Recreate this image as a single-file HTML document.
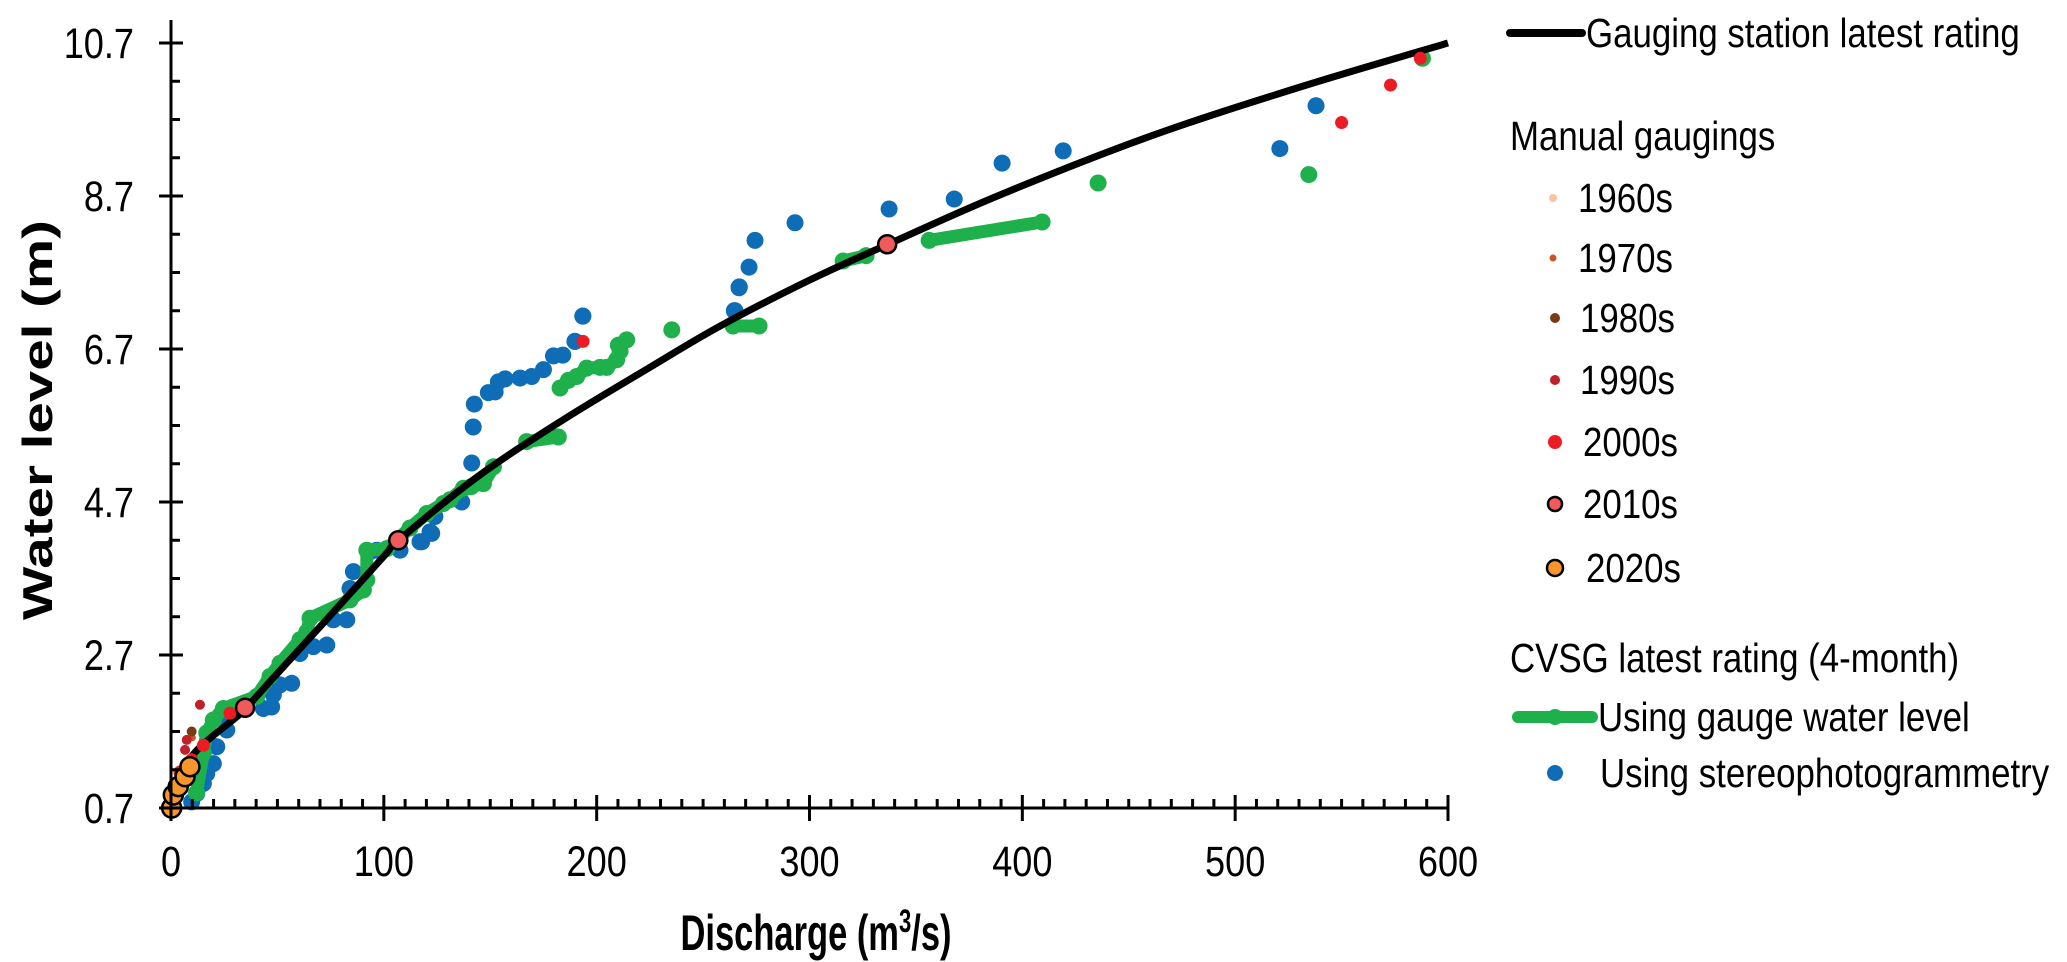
<!DOCTYPE html>
<html><head><meta charset="utf-8"><style>
html,body{margin:0;padding:0;background:#fff;}
svg{display:block;font-family:"Liberation Sans",Arial,sans-serif;}
</style></head><body>
<svg id="chart" width="2067" height="962" viewBox="0 0 2067 962" xmlns="http://www.w3.org/2000/svg">
<g id="marks"></g>
<g id="axes"></g>
<g id="legend">
  <line x1="1510" y1="33" x2="1582" y2="33" stroke="#000" stroke-width="8" stroke-linecap="round"/>
  <text transform="translate(1586,47) scale(0.85,1)" font-size="41">Gauging station latest rating</text>
  <text transform="translate(1510,150) scale(0.85,1)" font-size="41">Manual gaugings</text>
  <circle cx="1553" cy="198" r="4" fill="#f7c4a6"/>
  <text transform="translate(1578,212) scale(0.85,1)" font-size="41">1960s</text>
  <circle cx="1553" cy="258" r="3.5" fill="#c8552a"/>
  <text transform="translate(1578,272) scale(0.85,1)" font-size="41">1970s</text>
  <circle cx="1555" cy="318" r="5" fill="#7b3a16"/>
  <text transform="translate(1580,332) scale(0.85,1)" font-size="41">1980s</text>
  <circle cx="1555" cy="380" r="5" fill="#c0202a"/>
  <text transform="translate(1580,394) scale(0.85,1)" font-size="41">1990s</text>
  <circle cx="1555" cy="442" r="7" fill="#ed1c24"/>
  <text transform="translate(1583,456) scale(0.85,1)" font-size="41">2000s</text>
  <circle cx="1555" cy="504" r="7" fill="#f05a5a" stroke="#000" stroke-width="2.5"/>
  <text transform="translate(1583,518) scale(0.85,1)" font-size="41">2010s</text>
  <circle cx="1555" cy="568" r="8" fill="#f7962b" stroke="#000" stroke-width="2.5"/>
  <text transform="translate(1586,582) scale(0.85,1)" font-size="41">2020s</text>
  <text transform="translate(1510,672) scale(0.85,1)" font-size="41">CVSG latest rating (4-month)</text>
  <line x1="1518" y1="717" x2="1592" y2="717" stroke="#1db04b" stroke-width="12" stroke-linecap="round"/>
  <circle cx="1555" cy="717" r="8" fill="#1db04b"/>
  <text transform="translate(1598,731) scale(0.85,1)" font-size="41">Using gauge water level</text>
  <circle cx="1555" cy="773" r="8" fill="#0e6db6"/>
  <text transform="translate(1600,787) scale(0.85,1)" font-size="41">Using stereophotogrammetry</text>
</g>
<text transform="translate(52,420) rotate(-90)" font-size="42" font-weight="bold" text-anchor="middle" textLength="400" lengthAdjust="spacingAndGlyphs">Water level (m)</text>
<text transform="translate(816,950) scale(0.69,1)" font-size="50" font-weight="bold" text-anchor="middle">Discharge (m<tspan font-size="32" dy="-18">3</tspan><tspan dy="18">/s)</tspan></text>
</svg>
<script>
// ---- data ----
const xTicks = [0,100,200,300,400,500,600];
const xTickLabels = ["0","100","200","300","400","500","600"];
const yTicks = [0.7,2.7,4.7,6.7,8.7,10.7];
const yTickLabels = ["0.7","2.7","4.7","6.7","8.7","10.7"];
const ratingQ = [0,2,6,12,20,29,35,50,72,100,107,144,184,225,258,300,337,390,460,530,600];
const ratingH = [0.7,0.95,1.22,1.45,1.65,1.85,2.0,2.46,3.13,3.99,4.2,5.03,5.77,6.46,7.0,7.6,8.07,8.72,9.48,10.12,10.7];
const greenQ1 = [12,15.2,16.8,19.9,24.6,40.3,46.5,51.2,60.6,63.8,65.3,84.1,90.4,92,92,101.4,112.3,120.2,128,131.1,137.4,141,146.8,151.5];
const greenH1 = [0.9,1.42,1.68,1.85,2.0,2.16,2.42,2.59,2.9,3.0,3.18,3.42,3.55,3.68,4.07,4.09,4.36,4.55,4.68,4.73,4.88,4.9,4.94,5.16];
const greenQ2 = [167.1,182];
const greenH2 = [5.49,5.55];
const greenQ3 = [182.8,186.7,190.6,195.3,201.6,204.7,209.4,211,210.2,214.1];
const greenH3 = [6.19,6.29,6.34,6.45,6.46,6.46,6.56,6.67,6.75,6.82];
const greenQ4 = [264.1,276.3];
const greenH4 = [7.0,7.0];
const greenQ5 = [315.8,326.6];
const greenH5 = [7.85,7.92];
const greenQ6 = [356.2,409.3];
const greenH6 = [8.12,8.36];
const greenSingleQ = [235.3,435.6,534.6,588];
const greenSingleH = [6.95,8.87,8.98,10.5];
const blueQ = [9.7,12.1,15.2,16.8,19.9,21.5,26.2,26.2,29.3,43.4,47.3,48.1,51.2,56.7,60.6,66.9,73.2,76.3,82.6,84.1,85.7,93.5,96.7,107.6,117,121.7,124,136.6,117.8,122.5,141.3,142,142.5,149.1,152.3,153.8,157,164,169.5,175,179.7,184.1,189.8,193.5,264.7,267,265,266.9,271.6,274.4,293.2,337.4,368,390.5,419.2,521,538];
const blueH = [0.78,0.89,1.02,1.15,1.28,1.5,1.72,1.89,2.02,2.0,2.02,2.18,2.31,2.33,2.72,2.81,2.83,3.16,3.16,3.57,3.79,4.05,4.07,4.07,4.18,4.31,4.51,4.70,4.18,4.29,5.21,5.68,5.98,6.13,6.14,6.27,6.31,6.32,6.34,6.43,6.61,6.62,6.80,7.13,7.2,7.51,7.2,7.5,7.77,8.12,8.35,8.53,8.66,9.13,9.29,9.32,9.88];
const d1970Q = [10];
const d1970H = [1.62];
const d1980Q = [9.7];
const d1980H = [1.70];
const d1990Q = [13.6,7.4,6.6];
const d1990H = [2.05,1.59,1.46];
const d2000Q = [27.7,15.2,4.2,9.7,193.6,550,573,587];
const d2000H = [1.94,1.52,1.17,1.33,6.8,9.66,10.15,10.5];
const d2010Q = [34.8,106.8,336.5];
const d2010H = [2.01,4.2,8.07];
const d2020Q = [0.3,1.1,3.4,6.6,8.9];
const d2020H = [0.70,0.87,0.98,1.11,1.24];

// ---- scales ----
const X0 = 171, X1 = 1448, Y0 = 808, Y1 = 43;
function sx(q){ return X0 + (q - 0) / 600 * (X1 - X0); }
function sy(h){ return Y0 - (h - 0.7) / 10 * (Y0 - Y1); }
const NS = "http://www.w3.org/2000/svg";
const marks = document.getElementById('marks');
const axes = document.getElementById('axes');
function mk(tag, attrs, parent){
  const e = document.createElementNS(NS, tag);
  for (const k in attrs) e.setAttribute(k, attrs[k]);
  parent.appendChild(e);
  return e;
}
function dots(Q, H, r, fill, stroke, sw, name){
  for (let i = 0; i < Q.length; i++){
    const c = mk('circle', {cx: sx(Q[i]), cy: sy(H[i]), r: r, fill: fill}, marks);
    if (stroke){ c.setAttribute('stroke', stroke); c.setAttribute('stroke-width', sw); }
    
    
  }
}
function greenLine(Q, H){
  const pts = Q.map((q, i) => sx(q) + ',' + sy(H[i])).join(' ');
  const p = mk('polyline', {points: pts, fill: 'none', stroke: '#1db04b', 'stroke-width': 13, 'stroke-linecap': 'round', 'stroke-linejoin': 'round'}, marks);
  
  
  dots(Q, H, 8.5, '#1db04b', null, 0, 'cvsg-gauge-level-point');
}
function smoothPath(Q, H){
  const P = Q.map((q, i) => [sx(q), sy(H[i])]);
  let d = 'M' + P[0][0] + ',' + P[0][1];
  for (let i = 0; i < P.length - 1; i++){
    const p0 = P[Math.max(0, i - 1)], p1 = P[i], p2 = P[i + 1], p3 = P[Math.min(P.length - 1, i + 2)];
    const c1x = p1[0] + (p2[0] - p0[0]) / 6, c1y = p1[1] + (p2[1] - p0[1]) / 6;
    const c2x = p2[0] - (p3[0] - p1[0]) / 6, c2y = p2[1] - (p3[1] - p1[1]) / 6;
    d += ' C' + c1x + ',' + c1y + ' ' + c2x + ',' + c2y + ' ' + p2[0] + ',' + p2[1];
  }
  return d;
}

// ---- series ----
dots(blueQ, blueH, 8.5, '#0e6db6', null, 0, 'stereo-point');
greenLine(greenQ1, greenH1);
greenLine(greenQ2, greenH2);
greenLine(greenQ3, greenH3);
greenLine(greenQ4, greenH4);
greenLine(greenQ5, greenH5);
greenLine(greenQ6, greenH6);
dots(greenSingleQ, greenSingleH, 8.5, '#1db04b', null, 0, 'cvsg-gauge-level-point');
dots([264.7,267,193.5,189.8], [7.2,7.51,7.13,6.80], 8.5, '#0e6db6', null, 0, 'stereo-point');

const rl = mk('path', {d: smoothPath(ratingQ, ratingH), fill: 'none', stroke: '#000', 'stroke-width': 7, 'stroke-linejoin': 'round'}, marks);



dots(d1970Q, d1970H, 3.5, '#c8552a', null, 0, 'gauging-1970s');
dots(d1980Q, d1980H, 5, '#7b3a16', null, 0, 'gauging-1980s');
dots(d1990Q, d1990H, 5, '#c0202a', null, 0, 'gauging-1990s');
dots(d2000Q, d2000H, 6.5, '#ed1c24', null, 0, 'gauging-2000s');
dots(d2010Q, d2010H, 9, '#f05a5a', '#000', 2.5, 'gauging-2010s');
dots(d2020Q, d2020H, 9.5, '#f7962b', '#000', 2.5, 'gauging-2020s');

// ---- axes ----
const ya = mk('line', {x1: X0, y1: 20, x2: X0, y2: Y0, stroke: '#000', 'stroke-width': 3}, axes);


const xa = mk('line', {x1: X0, y1: Y0, x2: X1, y2: Y0, stroke: '#000', 'stroke-width': 3}, axes);


for (let v = 0; v <= 600; v += 10){
  const major = (v % 100 === 0);
  const t = mk('line', {x1: sx(v), y1: major ? Y0 - 13 : Y0 - 9, x2: sx(v), y2: major ? Y0 + 13 : Y0, stroke: '#000', 'stroke-width': 3}, axes);
  
  
}
for (let v = 0.7; v <= 10.71; v += 0.5){
  const major = Math.abs(((v - 0.7) / 2) - Math.round((v - 0.7) / 2)) < 1e-6;
  const t = mk('line', {x1: major ? X0 - 12 : X0, y1: sy(v), x2: major ? X0 + 12 : X0 + 9, y2: sy(v), stroke: '#000', 'stroke-width': 3}, axes);
  
  
}
xTicks.forEach((v, i) => {
  const t = mk('text', {transform: 'translate(' + sx(v) + ',876) scale(0.84,1)', 'font-size': 43, 'text-anchor': 'middle'}, axes);
  t.textContent = xTickLabels[i];
  
  
});
yTicks.forEach((v, i) => {
  const t = mk('text', {transform: 'translate(134,' + (sy(v) + 15) + ') scale(0.84,1)', 'font-size': 43, 'text-anchor': 'end'}, axes);
  t.textContent = yTickLabels[i];
  
  
});
</script>
</body></html>
